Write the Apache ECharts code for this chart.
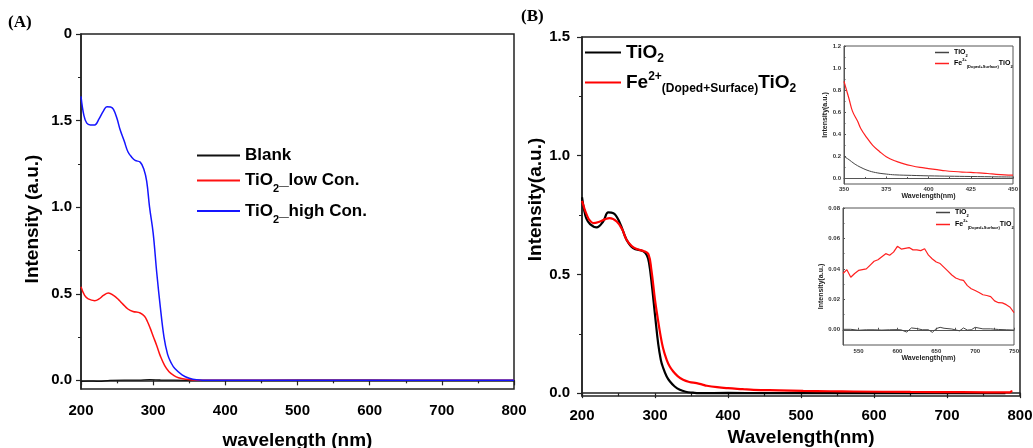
<!DOCTYPE html>
<html>
<head>
<meta charset="utf-8">
<script src="https://cdn.jsdelivr.net/npm/echarts@6/dist/echarts.min.js"></script>
<style>
  html, body { margin: 0; padding: 0; background: #fff; }
  #chart { width: 1033px; height: 448px; }
</style>
</head>
<body>
<div id="chart"></div>
<script>
// panel A
const aBlankX = [200, 210, 225, 240, 260, 280, 295, 310, 330, 360, 450, 550, 650, 800];
const aBlankY = [-0.006, -0.004, -0.006, 0.0, 0.001, 0.001, 0.004, 0.002, 0.001, 0.0, 0.0, 0.001, 0.0, 0.0];
const aLowX = [200, 205, 210, 219, 225, 231, 238, 245, 252, 258, 265, 272, 282, 288, 292, 296, 300, 305, 310, 316, 322, 328, 335, 346, 360, 400, 800];
const aLowY = [0.54, 0.49, 0.47, 0.46, 0.47, 0.49, 0.504, 0.49, 0.466, 0.44, 0.412, 0.398, 0.389, 0.37, 0.34, 0.30, 0.255, 0.20, 0.14, 0.085, 0.05, 0.03, 0.015, 0.006, 0.001, 0, 0];
const aHighX = [200, 204, 208, 213, 219, 225, 231, 236, 241, 245, 250, 254, 260, 265, 270, 275, 282, 287, 291, 295, 300, 305, 310, 315, 320, 325, 330, 340, 350, 360, 380, 400, 500, 600, 700, 800];
const aHighY = [1.64, 1.53, 1.485, 1.475, 1.475, 1.51, 1.555, 1.58, 1.578, 1.565, 1.51, 1.45, 1.38, 1.32, 1.29, 1.27, 1.26, 1.22, 1.15, 1.0, 0.85, 0.62, 0.42, 0.25, 0.15, 0.10, 0.068, 0.032, 0.012, 0.003, 0.0, 0.001, 0.0, 0.001, 0.0, 0.0];

// panel B
const bTiX = [200, 203, 206, 211, 220, 229, 236, 243, 252, 261, 270, 284, 289, 292, 295, 300, 304.5, 308, 311, 316, 320.5, 327, 334, 342, 352, 360, 400, 450, 500, 600, 700, 780];
const bTiY = [0.825, 0.77, 0.735, 0.712, 0.698, 0.723, 0.761, 0.758, 0.716, 0.646, 0.611, 0.597, 0.58, 0.545, 0.475, 0.33, 0.205, 0.14, 0.108, 0.07, 0.049, 0.028, 0.014, 0.006, 0.002, 0.0, 0.001, 0.0, 0.001, 0.0, 0.0, 0.0];
const bFeX = [200, 203, 206, 210, 215.5, 224.7, 232, 238, 247.5, 255, 261, 268, 275, 285, 291, 295, 300, 303.5, 307, 311, 316, 320, 325, 331, 338.5, 347, 357, 365, 371, 385, 400, 420, 435, 470, 503, 540, 572, 650, 720, 786, 789];
const bFeY = [0.81, 0.78, 0.755, 0.73, 0.716, 0.723, 0.733, 0.737, 0.723, 0.69, 0.646, 0.62, 0.607, 0.598, 0.585, 0.52, 0.393, 0.32, 0.253, 0.19, 0.14, 0.113, 0.091, 0.072, 0.056, 0.047, 0.042, 0.036, 0.031, 0.025, 0.021, 0.017, 0.014, 0.012, 0.01, 0.008, 0.007, 0.005, 0.004, 0.003, 0.011];

// inset 1 (350-450 nm)
const i1TiX = [350, 353, 356, 360, 365, 370, 375, 380, 390, 400, 425, 450];
const i1TiY = [0.2, 0.17, 0.135, 0.1, 0.068, 0.05, 0.04, 0.033, 0.028, 0.024, 0.018, 0.013];
const i1FeX = [350, 353, 355, 358, 360, 363, 367, 371, 375, 380, 385, 390, 395, 400, 405, 410, 415, 420, 425, 430, 435, 440, 445, 450];
const i1FeY = [0.88, 0.72, 0.61, 0.52, 0.45, 0.38, 0.30, 0.245, 0.197, 0.16, 0.135, 0.115, 0.1, 0.09, 0.08, 0.07, 0.063, 0.058, 0.055, 0.05, 0.045, 0.038, 0.033, 0.031];

// inset 2 (530-750 nm)
const i2TiX = [530, 540, 550, 560, 570, 580, 590, 600, 605, 612, 618, 625, 632, 640, 645, 650, 655, 660, 670, 680, 685, 690, 695, 700, 710, 720, 730, 740, 750];
const i2TiY = [0.0003, 0.0003, -0.0003, 0, 0, -0.0002, 0, 0.0001, -0.0001, -0.0015, 0.0012, 0.0008, 0.0, 0.0, -0.0017, 0.0008, 0.0016, 0.001, 0.0005, -0.0007, 0.0012, -0.0002, 0.0, 0.0016, 0.0006, 0.0006, 0.0002, 0.0, -0.0002];
const i2FeX = [530, 535, 540, 545, 550, 555, 560, 565, 570, 575, 580, 585, 590, 595, 600, 605, 610, 615, 620, 625, 630, 635, 640, 645, 650, 655, 660, 665, 670, 675, 680, 685, 690, 695, 700, 705, 710, 715, 720, 725, 730, 735, 740, 745, 750];
const i2FeY = [0.037, 0.0395, 0.0345, 0.037, 0.039, 0.0395, 0.040, 0.0425, 0.045, 0.046, 0.048, 0.050, 0.049, 0.051, 0.0548, 0.053, 0.0535, 0.054, 0.0525, 0.0525, 0.052, 0.0532, 0.049, 0.0465, 0.0445, 0.0435, 0.041, 0.0385, 0.036, 0.034, 0.033, 0.0325, 0.029, 0.027, 0.0258, 0.0245, 0.023, 0.0225, 0.0218, 0.019, 0.0178, 0.0177, 0.0165, 0.0148, 0.0113];

const aYTicks = [0, 0.5, 1.0, 1.5, 2.0];
const aYMinor = [0.25, 0.75, 1.25, 1.75];
const bYTicks = [0, 0.5, 1.0, 1.5];
const bYMinor = [0.25, 0.75, 1.25];
const i1YTicks = [0, 0.2, 0.4, 0.6, 0.8, 1.0, 1.2];
const i1YMinor = [0.1, 0.3, 0.5, 0.7, 0.9, 1.1];
const i2YTicks = [0, 0.02, 0.04, 0.06, 0.08];
const i2YMinor = [0.01, 0.03, 0.05, 0.07];
const i2XTicks = [550, 600, 650, 700, 750];
const i2XMinor = [575, 625, 675, 725];

const FONT = '"Liberation Sans", Arial, sans-serif';

function zip(xs, ys) {
  return xs.map((x, i) => [x, ys[i]]);
}

function richSet(size, sub, lh) {
  return {
    b: { fontSize: size, fontWeight: 'bold', fontFamily: FONT, color: '#000', lineHeight: lh },
    sub: { fontSize: sub, fontWeight: 'bold', fontFamily: FONT, color: '#000', lineHeight: sub, verticalAlign: 'bottom' },
    sup: { fontSize: sub, fontWeight: 'bold', fontFamily: FONT, color: '#000', lineHeight: sub, verticalAlign: 'top' }
  };
}

const legendText = {
  'Blank': '{b|Blank}',
  'TiO2 low': '{b|TiO}{sub|2}{b|_low Con.}',
  'TiO2 high': '{b|TiO}{sub|2}{b|_high Con.}',
  'TiO2 B': '{b|TiO}{sub|2}',
  'Fe B': '{b|Fe}{sup|2+}{sub|(Doped+Surface)}{b|TiO}{sub|2}',
  'TiO2 i1': '{b|TiO}{sub|2}',
  'Fe i1': '{b|Fe}{sup|2+}{sub|(Doped+Surface)}{b|TiO}{sub|2}',
  'TiO2 i2': '{b|TiO}{sub|2}',
  'Fe i2': '{b|Fe}{sup|2+}{sub|(Doped+Surface)}{b|TiO}{sub|2}'
};

function xAxisMain(grid, name, gap, margin) {
  return {
    type: 'value', gridIndex: grid, min: 200, max: 800, interval: 100,
    name: name, nameLocation: 'middle', nameGap: gap,
    nameTextStyle: { fontSize: 19, fontWeight: 'bold', fontFamily: FONT, color: '#000' },
    axisLine: { lineStyle: { color: '#222', width: 1.5 } },
    axisTick: { length: 5, lineStyle: { color: '#222', width: 1.2 } },
    minorTick: { show: true, splitNumber: 2, length: 3, lineStyle: { color: '#222', width: 1.2 } },
    axisLabel: { margin: margin, fontSize: 15, fontWeight: 'bold', fontFamily: FONT, color: '#000' },
    splitLine: { show: false }
  };
}

function yAxisMain(grid, min, max, ticks, name, gap, pad, margin, fmt) {
  return {
    type: 'value', gridIndex: grid, min: min, max: max, position: 'left',
    name: name, nameLocation: 'middle', nameGap: gap,
    nameTextStyle: { fontSize: 19, fontWeight: 'bold', fontFamily: FONT, color: '#000', padding: pad },
    axisLine: { show: true, lineStyle: { color: '#222', width: 1.5 } },
    axisTick: { show: true, length: 5, customValues: ticks, lineStyle: { color: '#222', width: 1.2 } },
    axisLabel: { customValues: ticks, margin: margin, fontSize: 15, fontWeight: 'bold', fontFamily: FONT, color: '#000', formatter: fmt },
    splitLine: { show: false }
  };
}

function minorY(grid, min, max, ticks, len, inside, color) {
  return {
    type: 'value', gridIndex: grid, min: min, max: max, position: 'left', offset: 0,
    axisLine: { show: false },
    axisTick: { show: true, length: len, inside: inside, customValues: ticks, lineStyle: { color: color, width: 1 } },
    axisLabel: { show: false },
    splitLine: { show: false }
  };
}

function legendBox(names, left, top, width, gap, rich) {
  return {
    data: names, left: left, top: top, orient: 'vertical', padding: 0,
    itemWidth: width, itemHeight: width > 20 ? 2 : 1.5, itemGap: gap, icon: 'rect', selectedMode: false,
    formatter: n => legendText[n], textStyle: { rich: rich }
  };
}

function gridBox(left, top, width, height, color, bw, bg) {
  return {
    left: left, top: top, width: width, height: height,
    outerBoundsMode: 'none', containLabel: false,
    show: true, borderColor: color, borderWidth: bw, backgroundColor: bg
  };
}

const insetName = { fontSize: 7, fontWeight: 'bold', fontFamily: FONT, color: '#222' };
const insetLabel = { fontSize: 6, fontWeight: 'bold', fontFamily: FONT, color: '#333' };

function lineSeries(name, x, y, data, color, width, smooth) {
  return {
    name: name, type: 'line', xAxisIndex: x, yAxisIndex: y, data: data,
    showSymbol: false, symbol: 'none', smooth: smooth, silent: true,
    lineStyle: { color: color, width: width }, itemStyle: { color: color }
  };
}

const chart = echarts.init(document.getElementById('chart'));

const option = {
  animation: false,
  backgroundColor: '#fff',
  graphic: [
    { type: 'text', left: 8, top: 14, style: { text: '(A)', font: 'bold 17px "Liberation Serif", serif', fill: '#000' } },
    { type: 'text', left: 521, top: 8, style: { text: '(B)', font: 'bold 17px "Liberation Serif", serif', fill: '#000' } }
  ],
  grid: [
    gridBox(81, 34, 433, 355, '#222', 1.5, 'transparent'),
    gridBox(582, 37, 438, 359, '#222', 1.5, 'transparent'),
    gridBox(844, 46, 169, 138, '#555', 1, '#fff'),
    gridBox(843, 208, 171, 137, '#555', 1, '#fff')
  ],
  legend: [
    legendBox(['Blank', 'TiO2 low', 'TiO2 high'], 197, 147, 43, 8, richSet(17, 11, 28)),
    legendBox(['TiO2 B', 'Fe B'], 585, 43, 36, 6, richSet(19, 12, 24)),
    legendBox(['TiO2 i1', 'Fe i1'], 935, 49, 14, 0, richSet(7, 4, 11)),
    legendBox(['TiO2 i2', 'Fe i2'], 936, 209, 14, 1, richSet(7, 4, 11))
  ],
  xAxis: [
    xAxisMain(0, 'wavelength (nm)', 42, 14),
    xAxisMain(1, 'Wavelength(nm)', 32, 12),
    {
      type: 'value', gridIndex: 2, min: 350, max: 450, interval: 25,
      name: 'Wavelength(nm)', nameLocation: 'middle', nameGap: 8, nameTextStyle: insetName,
      axisLine: { lineStyle: { color: '#555', width: 1 } },
      axisTick: { inside: true, length: 2, lineStyle: { color: '#555' } },
      minorTick: { show: true, splitNumber: 2, length: 1.5, lineStyle: { color: '#555' } },
      axisLabel: Object.assign({ margin: 2 }, insetLabel),
      splitLine: { show: false }
    },
    {
      type: 'value', gridIndex: 3, min: 530, max: 750,
      name: 'Wavelength(nm)', nameLocation: 'middle', nameGap: 9, nameTextStyle: insetName,
      axisLine: { lineStyle: { color: '#555', width: 1 } },
      axisTick: { inside: true, length: 2, customValues: i2XTicks.concat(i2XMinor), lineStyle: { color: '#555' } },
      axisLabel: Object.assign({ margin: 3, customValues: i2XTicks }, insetLabel),
      splitLine: { show: false }
    }
  ],
  yAxis: [
    yAxisMain(0, -0.05, 2.0, aYTicks, 'Intensity (a.u.)', 39, [0, 15, 0, 0], 9, v => (v === 2 ? '0' : v.toFixed(1))),
    yAxisMain(1, -0.012, 1.5, bYTicks, 'Intensity(a.u.)', 30, [0, 0, 0, 34], 12, v => v.toFixed(1)),
    {
      type: 'value', gridIndex: 2, min: -0.05, max: 1.2, position: 'left',
      name: 'Intensity(a.u.)', nameLocation: 'middle', nameGap: 13, nameTextStyle: insetName,
      axisLine: { show: true, lineStyle: { color: '#555', width: 1 } },
      axisTick: { show: true, inside: true, length: 2, customValues: i1YTicks, lineStyle: { color: '#555' } },
      axisLabel: Object.assign({ margin: 3, customValues: i1YTicks, formatter: v => v.toFixed(1) }, insetLabel),
      splitLine: { show: false }
    },
    {
      type: 'value', gridIndex: 3, min: -0.01, max: 0.08, position: 'left',
      name: 'Intensity(a.u.)', nameLocation: 'middle', nameGap: 14,
      nameTextStyle: Object.assign({ padding: [0, 20, 0, 0] }, insetName),
      axisLine: { show: true, lineStyle: { color: '#555', width: 1 } },
      axisTick: { show: true, inside: true, length: 2, customValues: i2YTicks, lineStyle: { color: '#555' } },
      axisLabel: Object.assign({ margin: 3, customValues: i2YTicks, formatter: v => v.toFixed(2) }, insetLabel),
      splitLine: { show: false }
    },
    minorY(0, -0.05, 2.0, aYMinor, 3, false, '#222'),
    minorY(1, -0.012, 1.5, bYMinor, 3, false, '#222'),
    minorY(2, -0.05, 1.2, i1YMinor, 1.5, true, '#555'),
    minorY(3, -0.01, 0.08, i2YMinor, 1.5, true, '#555')
  ],
  series: [
    lineSeries('Blank', 0, 0, zip(aBlankX, aBlankY), '#111', 1.3, 0.3),
    lineSeries('TiO2 low', 0, 0, zip(aLowX, aLowY), '#ff1111', 1.5, 0.4),
    lineSeries('TiO2 high', 0, 0, zip(aHighX, aHighY), '#1515ff', 1.5, 0.4),
    lineSeries('TiO2 B', 1, 1, zip(bTiX, bTiY), '#000', 2.2, 0.4),
    lineSeries('Fe B', 1, 1, zip(bFeX, bFeY), '#f00', 2.2, 0.4),
    lineSeries('TiO2 i1', 2, 2, zip(i1TiX, i1TiY), '#444', 1, 0.4),
    lineSeries('Fe i1', 2, 2, zip(i1FeX, i1FeY), '#ff2020', 1.2, 0.4),
    lineSeries('TiO2 i2', 3, 3, zip(i2TiX, i2TiY), '#444', 1, false),
    lineSeries('Fe i2', 3, 3, zip(i2FeX, i2FeY), '#ff2020', 1.2, false)
  ]
};

chart.setOption(option);
</script>
</body>
</html>
